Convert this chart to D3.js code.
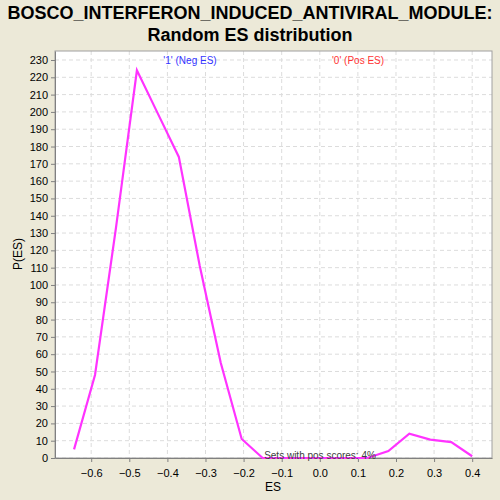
<!DOCTYPE html>
<html>
<head>
<meta charset="utf-8">
<script src="https://cdn.jsdelivr.net/npm/d3@7"></script>
<style>
  body { margin: 0; background: #ECE9D8; }
  svg { display: block; font-family: "DejaVu Sans", Arial, sans-serif; }
</style>
</head>
<body>
<div id="chart"></div>
<script>
// Data
const esValues = [-0.645, -0.59, -0.535, -0.48, -0.425, -0.37, -0.315, -0.26, -0.205, -0.15,
                  -0.095, -0.04, 0.015, 0.07, 0.125, 0.18, 0.235, 0.29, 0.345, 0.4]
const densityValues = [5, 48, 133, 224, 199, 174, 111, 55, 11, 0,
                       0, 0, 0, 0, 0, 4, 14, 10.6, 9.2, 1]
const xTicks = [-0.6, -0.5, -0.4, -0.3, -0.2, -0.1, 0.0, 0.1, 0.2, 0.3, 0.4]
const yTicks = d3.range(0, 231, 10)
const titleLines = ['BOSCO_INTERFERON_INDUCED_ANTIVIRAL_MODULE:', 'Random ES distribution']

const width = 500, height = 500
const plot = { left: 55, top: 51, right: 492, bottom: 458 }

const svg = d3.select('#chart').append('svg')
    .attr('width', width)
    .attr('height', height)

svg.append('rect')
    .attr('width', width).attr('height', height)
    .attr('fill', '#ECE9D8')

const xScale = d3.scaleLinear()
    .domain([-0.695, 0.452])
    .range([plot.left, plot.right])
const yScale = d3.scaleLinear()
    .domain([0, 235.2])
    .range([plot.bottom, plot.top])

// Plot background
svg.append('rect')
    .attr('x', plot.left).attr('y', plot.top)
    .attr('width', plot.right - plot.left)
    .attr('height', plot.bottom - plot.top)
    .attr('fill', 'white')

// Grid
const grid = svg.append('g')
grid.selectAll('.vgrid')
    .data(xTicks)
    .enter().append('line')
    .attr('x1', d => xScale(d)).attr('x2', d => xScale(d))
    .attr('y1', plot.top).attr('y2', plot.bottom)
    .attr('stroke', '#dcdcdc').attr('stroke-dasharray', '4,3')
grid.selectAll('.hgrid')
    .data(yTicks)
    .enter().append('line')
    .attr('x1', plot.left).attr('x2', plot.right)
    .attr('y1', d => yScale(d)).attr('y2', d => yScale(d))
    .attr('stroke', '#dcdcdc').attr('stroke-dasharray', '4,3')

// Border
svg.append('rect')
    .attr('x', plot.left).attr('y', plot.top)
    .attr('width', plot.right - plot.left)
    .attr('height', plot.bottom - plot.top)
    .attr('fill', 'none')
    .attr('stroke', '#a0a0a0')

// Axes
const xAxis = d3.axisBottom(xScale)
    .tickValues(xTicks)
    .tickFormat(d3.format('.1f'))
    .tickSize(4)
    .tickSizeOuter(0)
const xg = svg.append('g')
    .attr('transform', 'translate(0,' + plot.bottom + ')')
    .call(xAxis)

const yAxis = d3.axisLeft(yScale)
    .tickValues(yTicks)
    .tickSize(4)
    .tickSizeOuter(0)
const yg = svg.append('g')
    .attr('transform', 'translate(' + plot.left + ',0)')
    .call(yAxis)

for (const g of [xg, yg]) {
    g.select('.domain').attr('stroke', '#808080')
    g.selectAll('.tick line').attr('stroke', '#808080')
    g.selectAll('.tick text').attr('font-size', 11).attr('fill', '#000')
        .attr('font-family', 'Arial, "Liberation Sans", sans-serif')
}
xg.selectAll('.tick text').attr('dy', '1.1em')

// Line
const line = d3.line()
    .x((d, i) => xScale(esValues[i]))
    .y(d => yScale(d))
svg.append('path')
    .datum(densityValues)
    .attr('d', line)
    .attr('fill', 'none')
    .attr('stroke', '#FF33FF')
    .attr('stroke-width', 2.2)

// Title
svg.selectAll('.title')
    .data(titleLines)
    .enter().append('text')
    .attr('x', 250)
    .attr('y', (d, i) => 19 + i * 22)
    .attr('text-anchor', 'middle')
    .attr('font-family', 'Arial, "Liberation Sans", sans-serif')
    .attr('font-weight', 'bold')
    .attr('font-size', 18)
    .text(d => d)

// Annotations
const labelFont = 'Arial, "Liberation Sans", sans-serif'
svg.append('text')
    .attr('x', 190).attr('y', 64)
    .attr('text-anchor', 'middle')
    .attr('font-family', labelFont).attr('font-size', 10)
    .attr('fill', '#3333FF')
    .text("'1' (Neg ES)")
svg.append('text')
    .attr('x', 358).attr('y', 64)
    .attr('text-anchor', 'middle')
    .attr('font-family', labelFont).attr('font-size', 10)
    .attr('fill', '#FF3333')
    .text("'0' (Pos ES)")
svg.append('text')
    .attr('x', 320).attr('y', 459)
    .attr('text-anchor', 'middle')
    .attr('font-family', labelFont).attr('font-size', 10)
    .attr('fill', '#404040')
    .text('Sets with pos scores: 4%')

// Axis labels
svg.append('text')
    .attr('x', 273).attr('y', 491)
    .attr('text-anchor', 'middle')
    .attr('font-family', labelFont).attr('font-size', 12)
    .text('ES')
svg.append('text')
    .attr('transform', 'translate(22,' + 254 + ') rotate(-90)')
    .attr('text-anchor', 'middle')
    .attr('font-family', labelFont).attr('font-size', 12)
    .text('P(ES)')
</script>
</body>
</html>
